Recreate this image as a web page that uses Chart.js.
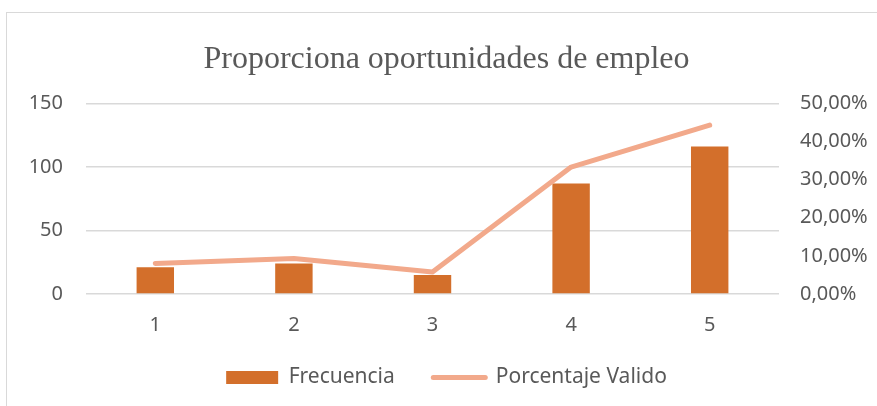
<!DOCTYPE html>
<html>
<head>
<meta charset="utf-8">
<script src="https://cdn.jsdelivr.net/npm/chart.js@4/dist/chart.umd.min.js"></script>
<style>
  body { margin: 0; background: #fff; }
  #frame { position: absolute; left: 6px; top: 12px; width: 880px; height: 400px; border: 1px solid #d9d9d9; }
  #wrap { position: absolute; left: 0; top: 0; width: 877px; height: 406px; }
</style>
</head>
<body>
<div id="frame"></div>
<div id="wrap"><canvas id="myChart"></canvas></div>
<script>
const categorias = ['1', '2', '3', '4', '5'];
const frecuencia = [21, 24, 15, 87, 116];
const porcentajeValido = [8.0, 9.3, 5.8, 33.3, 44.3];

const naranja = '#d36f2b';
const salmon = '#f2a98b';
const gris = '#595959';
const sans = '"Noto Sans", sans-serif';

const ctx = document.getElementById('myChart');
const chart = new Chart(ctx, {
    data: {
        labels: categorias,
        datasets: [{
            type: 'bar',
            label: 'Frecuencia',
            data: frecuencia,
            backgroundColor: naranja,
            barPercentage: 0.27,
            categoryPercentage: 1,
            yAxisID: 'y',
            order: 1
        },
            {
                type: 'line',
                label: 'Porcentaje Valido',
                data: porcentajeValido,
                borderColor: salmon,
                backgroundColor: salmon,
                borderWidth: 5,
                borderCapStyle: 'round',
                borderJoinStyle: 'round',
                pointRadius: 0,
                tension: 0,
                yAxisID: 'y1',
                order: 0
            }]
    },
    options: {
        responsive: true,
        maintainAspectRatio: false,
        animation: false,
        layout: { padding: { left: 16, right: 0, bottom: 8 } },
        plugins: {
            tooltip: { enabled: false },
            title: {
                display: true,
                text: 'Proporciona oportunidades de empleo',
                color: gris,
                font: { family: '"Liberation Serif", serif', size: 32, weight: 'normal' },
                padding: { top: 40, bottom: 25 }
            },
            legend: {
                position: 'bottom',
                labels: {
                    color: gris,
                    font: { family: sans, size: 21 },
                    usePointStyle: true,
                    pointStyleWidth: 52,
                    boxHeight: 13,
                    padding: 12,
                    // extra gap after the first entry, like the original legend
                    generateLabels: (c) => c.data.datasets.map((ds, i) => ({
                        text: i === 0 ? ds.label + '\u2003 ' : ds.label,
                        fillStyle: ds.type === 'bar' ? naranja : salmon,
                        strokeStyle: ds.type === 'bar' ? naranja : salmon,
                        lineWidth: ds.type === 'bar' ? 0 : 5,
                        lineCap: 'round',
                        pointStyle: ds.type === 'bar' ? 'rect' : 'line',
                        fontColor: gris,
                        datasetIndex: i
                    }))
                }
            }
        },
        scales: {
            x: {
                grid: { display: false },
                border: { display: false },
                ticks: { color: gris, font: { family: sans, size: 20 }, padding: 11 },
                afterFit: (scale) => { scale.height += 7; }
            },
            y: {
                position: 'left',
                min: 0,
                max: 150,
                ticks: { stepSize: 50, color: gris, font: { family: sans, size: 20 }, padding: 23 },
                grid: { color: '#d9d9d9', lineWidth: 1.5, drawTicks: false },
                border: { display: false },
                afterFit: (scale) => { scale.width = 70; }
            },
            y1: {
                position: 'right',
                min: 0,
                max: 50,
                ticks: {
                    stepSize: 10,
                    color: gris,
                    font: { family: sans, size: 20 },
                    padding: 21,
                    callback: (v) => v.toFixed(2).replace('.', ',') + '%'
                },
                grid: { display: false, drawTicks: false },
                border: { display: false },
                afterFit: (scale) => { scale.width = 98; }
            }
        }
    }
});
</script>
</body>
</html>
